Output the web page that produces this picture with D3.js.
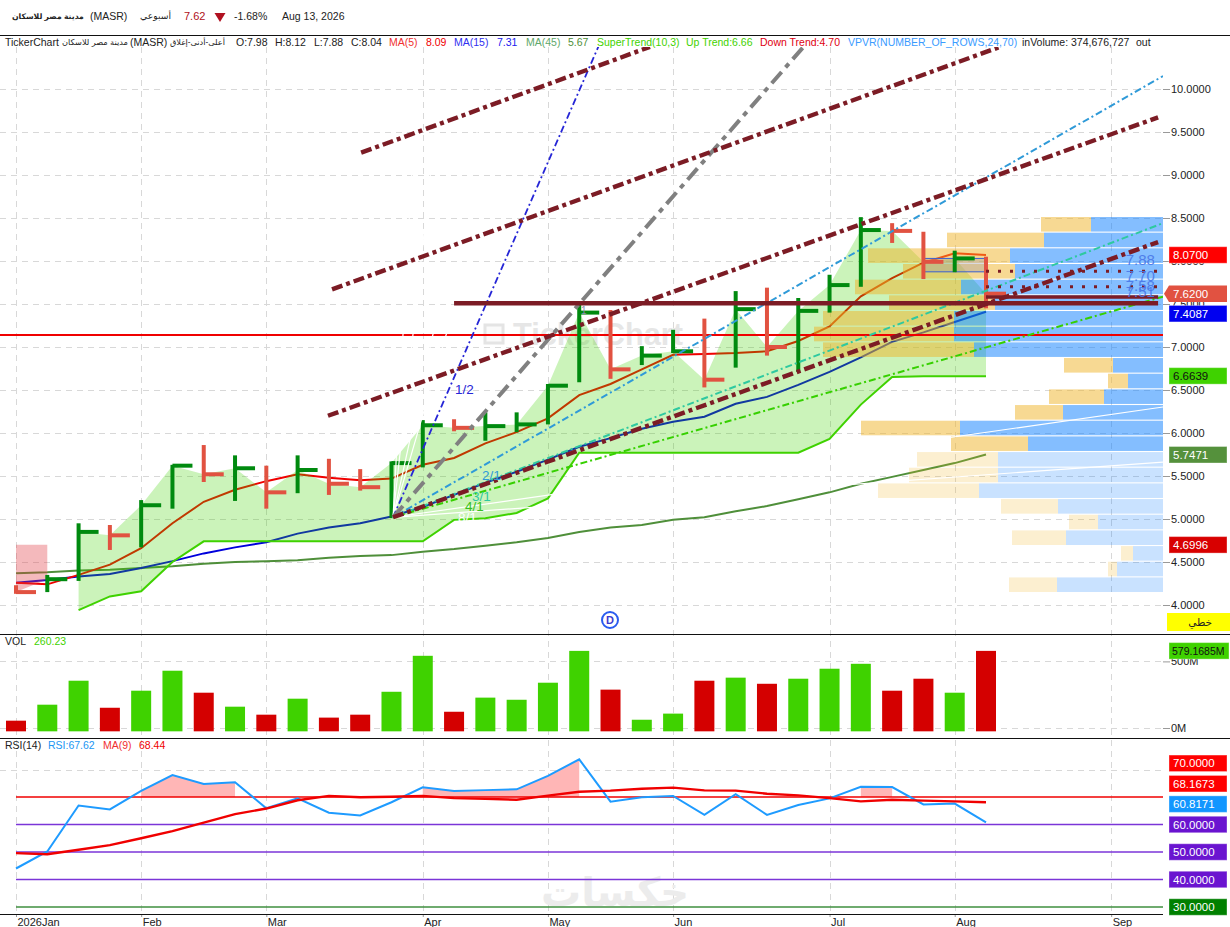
<!DOCTYPE html>
<html><head><meta charset="utf-8">
<script src="https://cdn.jsdelivr.net/npm/d3@7"></script>
<style>
html,body{margin:0;padding:0;background:#fff}
svg{display:block}
text{font-family:"Liberation Sans","DejaVu Sans",sans-serif}
</style></head><body><div id="c"></div>
<script>
// ---------- data ----------
const monthIndex=[0,4,8,13,17,21,26,30,35];
const monthLabels=["2026Jan","Feb","Mar","Apr","May","Jun","Jul","Aug","Sep"];
const priceTicks=[10,9.5,9,8.5,8,7.5,7,6.5,6,5.5,5,4.5,4];
const high=[4.23,4.35,4.95,4.93,5.22,5.63,5.86,5.74,5.62,5.74,5.70,5.58,5.67,6.15,6.16,6.24,6.24,6.57,7.49,7.43,7.01,7.20,7.33,7.65,7.69,7.57,7.84,8.51,8.44,8.34,8.12,8.05];
const low=[4.13,4.15,4.28,4.64,4.67,5.12,5.43,5.21,5.12,5.30,5.28,5.33,5.01,5.60,6.02,5.91,6.01,6.10,6.59,6.63,6.79,6.93,6.53,6.76,6.90,6.71,7.40,7.70,8.21,7.79,7.87,7.45];
const close=[4.15,4.30,4.85,4.81,5.16,5.62,5.52,5.59,5.31,5.57,5.41,5.37,5.65,6.09,6.06,6.08,6.10,6.55,7.40,6.74,6.90,6.95,6.62,7.44,7.00,7.42,7.72,8.36,8.35,7.99,8.03,7.62];
const ma5=[4.26,4.24,4.35,4.47,4.66,4.95,5.20,5.34,5.44,5.52,5.48,5.45,5.47,5.63,5.71,5.88,6.01,6.17,6.44,6.57,6.74,6.91,6.92,6.93,6.95,7.07,7.24,7.59,7.80,7.98,8.09,8.07];
const ma15=[4.26,4.29,4.33,4.36,4.43,4.51,4.60,4.67,4.73,4.83,4.90,4.95,5.03,5.14,5.28,5.42,5.55,5.69,5.84,5.94,6.05,6.13,6.19,6.34,6.42,6.56,6.71,6.88,7.06,7.17,7.29,7.41];
const ma45=[4.37,4.38,4.40,4.41,4.43,4.45,4.48,4.50,4.51,4.52,4.55,4.57,4.58,4.62,4.65,4.69,4.73,4.78,4.85,4.90,4.93,4.99,5.02,5.09,5.15,5.23,5.31,5.41,5.49,5.57,5.65,5.75];
const upTrend=[null,null,3.94,4.10,4.16,4.50,4.74,4.74,4.74,4.74,4.74,4.74,4.74,4.74,4.99,5.01,5.07,5.24,5.77,5.77,5.77,5.77,5.77,5.77,5.77,5.77,5.93,6.33,6.65,6.66,6.66,6.66];
const downTrend=[4.70,4.70];
const volume=[55,175,355,152,280,430,265,160,100,220,78,100,272,542,122,228,212,340,579,288,62,108,355,378,332,370,445,482,280,370,265,579];
const volumeUp=[0,1,1,0,1,1,0,1,0,1,0,0,1,1,0,1,1,1,1,0,1,1,0,1,0,1,1,1,0,0,1,0];
const rsi=[44.0,50.2,66.9,65.5,72.2,78.0,74.7,75.4,65.9,69.5,64.3,63.3,68.1,73.5,72.2,72.5,72.8,77.7,83.7,68.3,69.9,70.4,63.5,71.0,63.5,67.1,69.5,73.7,73.6,67.3,67.6,60.8];
const rsiMa=[49.6,49.2,50.8,52.5,55.0,57.6,60.7,63.8,65.8,68.8,70.4,69.9,70.1,70.4,69.6,69.3,69.0,70.5,71.9,72.3,73.0,73.4,72.4,72.3,71.2,70.6,69.6,68.4,69.0,68.7,68.4,68.1];
const rsiHot=[[4,7],[13,18],[27,28]];
const rsiLevels=[70,60,50,40,30];
const vpBuy=[72,119,153,148,202,168,209,209,189,50,35,59,100,203,135,165,165,184,105,65,97,30,46,106];
const vpSell=[50,97,142,112,106,106,131,140,151,49,20,55,48,99,77,81,89,101,57,29,54,12,9,48];
const channels=[[11.03,9.26,20.26,10.49],[10.1,7.67,31.45,10.49],[9.97,6.20,36.5,9.67],[12.05,5.02,36.5,8.22]];
const fanOrigin=[12.05,5.02], fanUnit=0.417;
const fanColored=[[2,"2/1"],[1/2,"1/2"],[1,"1"],[3,"3/1"],[4,"4/1"]];
const fanWhite=[8,16,1/3,1/4,1/8,1/16];
const fibLevels=[7.88,7.70,7.58,7.51];

// ---------- layout ----------
const W=1230,H=927;
const PLOT_R=1163;
const svg=d3.select("#c").append("svg").attr("width",W).attr("height",H).attr("viewBox",`0 0 ${W} ${H}`);
const x=d3.scaleLinear().domain([0,31]).range([16,986]);
const y=d3.scaleLinear().domain([4,10]).range([605,89]);
const yVol=d3.scaleLinear().domain([0,500]).range([728,661.4]);
const yR=d3.scaleLinear().domain([30,70]).range([907,797]);
const idxEnd=x.invert(PLOT_R);
const GRID="#d8d8d8";
const clipId="mainClip";
svg.append("defs").append("clipPath").attr("id",clipId).append("rect").attr("x",0).attr("y",47).attr("width",PLOT_R).attr("height",587);

// text helper; fit = shrink the font until the text takes that width
function T(g,txt,tx,ty,o={}){
  const t=g.append("text").attr("x",tx).attr("y",ty).attr("dy","0.35em")
    .attr("font-size",o.size||10.5).attr("fill",o.fill||"#222").text(txt);
  if(o.weight)t.attr("font-weight",o.weight);
  if(o.anchor)t.attr("text-anchor",o.anchor);
  if(o.opacity)t.attr("opacity",o.opacity);
  if(o.fit){const s=(o.size||10.5)*o.fit/t.node().getComputedTextLength();t.attr("font-size",s);}
  return t;
}

// grids
const grid=svg.append("g").attr("stroke",GRID).attr("stroke-width",1).attr("stroke-dasharray","6,5").attr("fill","none");
grid.selectAll(".v").data(monthIndex).join("line").attr("x1",d=>Math.round(x(d))+.5).attr("x2",d=>Math.round(x(d))+.5).attr("y1",47).attr("y2",914);
grid.selectAll(".h").data(priceTicks).join("line").attr("x1",0).attr("x2",PLOT_R).attr("y1",d=>Math.round(y(d))+.5).attr("y2",d=>Math.round(y(d))+.5);
[yVol(0),yVol(500),yR(80)].forEach(v=>grid.append("line").attr("x1",0).attr("x2",PLOT_R).attr("y1",Math.round(v)+.5).attr("y2",Math.round(v)+.5));

// watermarks
const wm=svg.append("g");
wm.append("rect").attr("x",485).attr("y",325).attr("width",18).attr("height",18).attr("fill","#fafafa").attr("stroke","#e4e4e4").attr("stroke-width",3);
T(wm,"TickerChart",513,334,{size:25,weight:"bold",fill:"#e6e6e6",fit:170});
T(wm,"خكسات",541,892,{size:44,weight:"bold",fill:"#ececec",fit:148});

const main=svg.append("g").attr("clip-path",`url(#${clipId})`);
const ln=(arr)=>d3.line().defined(d=>d!=null).x((d,i)=>x(i)).y(d=>y(d))(arr);

// moving averages under the fills
[[ma45,"#4f8f3a"],[ma15,"#0000dc"],[ma5,"#f00000"]].forEach(([a,c])=>main.append("path").attr("d",ln(a)).attr("fill","none").attr("stroke",c).attr("stroke-width",2));

// supertrend bands
const bandIdx=d3.range(2,32);
main.append("path").datum(bandIdx).attr("fill","rgba(63,210,0,0.27)")
  .attr("d",d3.area().x(i=>x(i)).y0(i=>y(upTrend[i])).y1(i=>y(close[i])));
main.append("path").datum(d3.range(0,2)).attr("fill","rgba(224,60,70,0.36)")
  .attr("d",d3.area().x(i=>x(i)).y0(i=>y(downTrend[i])).y1(i=>y(close[i])));
main.append("path").attr("d",ln(upTrend)).attr("fill","none").attr("stroke","#3fd200").attr("stroke-width",2);

// VPVR
const rowY=d3.scaleBand().domain(d3.range(24)).range([217,592]).paddingInner(0.07);
const vpX=d3.scaleLinear().domain([0,350]).range([PLOT_R,PLOT_R-350]);
const HOT_ROWS=15;
const vp=main.append("g");
vpBuy.forEach((b,r)=>{
  const hot=r<HOT_ROWS;
  vp.append("rect").attr("x",vpX(b)).attr("width",vpX(0)-vpX(b)).attr("y",rowY(r)).attr("height",rowY.bandwidth()).attr("fill",hot?"rgba(10,125,255,0.5)":"rgba(10,125,255,0.22)");
  vp.append("rect").attr("x",vpX(b+vpSell[r])).attr("width",vpX(b)-vpX(b+vpSell[r])).attr("y",rowY(r)).attr("height",rowY.bandwidth()).attr("fill",hot?"rgba(240,180,40,0.5)":"rgba(240,180,40,0.22)");
});

// fib box
main.append("rect").attr("x",x(29)).attr("width",x(31)-x(29)).attr("y",y(8.03)).attr("height",y(fibLevels[0])-y(8.03)+.5)
  .attr("fill","rgba(150,150,165,0.35)").attr("stroke","#3a5fd0").attr("stroke-width",1);

// red horizontal
main.append("line").attr("x1",0).attr("x2",PLOT_R).attr("y1",y(7.14)).attr("y2",y(7.14)).attr("stroke","#f00000").attr("stroke-width",2);

// HLC bars
const UP="#008a0f",DN="#e15241";
const bars=main.append("g").selectAll("g").data(d3.range(32)).join("g").attr("stroke",i=>volumeUp[i]?UP:DN).attr("stroke-width",4);
bars.append("line").attr("x1",i=>x(i)).attr("x2",i=>x(i)).attr("y1",i=>y(high[i])).attr("y2",i=>y(low[i]));
bars.append("line").attr("x1",i=>x(i)).attr("x2",i=>x(i)+20).attr("y1",i=>y(close[i])).attr("y2",i=>y(close[i]));

// fan
const fanY=(r,i)=>y(fanOrigin[1]+fanUnit*(i-fanOrigin[0])/r);
fanWhite.forEach(r=>main.append("line").attr("x1",x(fanOrigin[0])).attr("y1",y(fanOrigin[1])).attr("x2",x(idxEnd)).attr("y2",fanY(r,idxEnd)).attr("stroke","#fff").attr("stroke-width",1.2));
const fanStyle={"2/1":["#2f9ad8",2,"7,3,2,3"],"1/2":["#2626d6",1.8,"7,3,2,3"],"1":["#808080",4,"15,6,5,6"],"3/1":["#2ec9a0",2,"7,3,2,3"],"4/1":["#36d000",2,"7,3,2,3"]};
fanColored.forEach(([r,n])=>{const s=fanStyle[n];main.append("line").attr("x1",x(fanOrigin[0])).attr("y1",y(fanOrigin[1])).attr("x2",x(idxEnd)).attr("y2",fanY(r,idxEnd)).attr("stroke",s[0]).attr("stroke-width",s[1]).attr("stroke-dasharray",s[2]);});

// channels
const MAROON="#7c1c25";
channels.forEach(c=>main.append("line").attr("x1",x(c[0])).attr("y1",y(c[1])).attr("x2",x(c[2])).attr("y2",y(c[3])).attr("stroke",MAROON).attr("stroke-width",4.4).attr("stroke-dasharray","11,4,4,4"));

// fib levels
main.append("line").attr("x1",x(14)).attr("x2",x(36.5)).attr("y1",y(7.51)).attr("y2",y(7.51)).attr("stroke",MAROON).attr("stroke-width",4.5);
main.append("line").attr("x1",x(31)).attr("x2",x(36.5)).attr("y1",y(7.58)).attr("y2",y(7.58)).attr("stroke",MAROON).attr("stroke-width",3.5);
[7.88,7.70].forEach(v=>main.append("line").attr("x1",x(31)).attr("x2",x(36.5)).attr("y1",y(v)).attr("y2",y(v)).attr("stroke",MAROON).attr("stroke-width",3).attr("stroke-dasharray","3,9"));

// labels on drawing tools
const tl=svg.append("g");
fibLevels.forEach(v=>T(tl,v.toFixed(2),x(36.4),y(v)-11.5,{size:15,fill:"#4a78e8",anchor:"end",opacity:.9}));
T(tl,"1/2",455,389,{size:13.5,fill:"#2626d6"});
T(tl,"1",581,310,{size:10,fill:"#8a8ab0"});
T(tl,"2/1",482,475,{size:13.5,fill:"#2f9ad8"});
T(tl,"3/1",472,496,{size:13.5,fill:"#2ec9a0"});
T(tl,"4/1",465,506,{size:13.5,fill:"#36c020"});
T(tl,"8/1",458,517,{size:13.5,fill:"#fff"});

// D marker
const dm=svg.append("g");
dm.append("circle").attr("cx",610).attr("cy",620).attr("r",8).attr("fill","#fff").attr("stroke","#2a5cf0").attr("stroke-width",2);
T(dm,"D",610,620.5,{size:11,weight:"bold",fill:"#3a3ad0",anchor:"middle"});

// volume
svg.append("g").selectAll("rect").data(volume).join("rect").attr("x",(d,i)=>x(i)-10).attr("width",20)
  .attr("y",d=>yVol(d)).attr("height",d=>yVol(-25)-yVol(d)).attr("fill",(d,i)=>volumeUp[i]?"#3fd200":"#d40000");

// RSI
const rs=svg.append("g");
rsiHot.forEach(([a,b])=>rs.append("path").datum(d3.range(a,b+1)).attr("fill","#ffb6b6")
  .attr("d",d3.area().x(i=>x(i)).y0(yR(70)).y1(i=>yR(rsi[i]))));
rsiLevels.forEach(v=>{const c=v===70?"#f00000":v===30?"#3f8f3f":"#7b35d8";
  rs.append("line").attr("x1",16).attr("x2",PLOT_R).attr("y1",yR(v)).attr("y2",yR(v)).attr("stroke",c).attr("stroke-width",1.4);});
const lr=a=>d3.line().x((d,i)=>x(i)).y(d=>yR(d))(a);
rs.append("path").attr("d",lr(rsi)).attr("fill","none").attr("stroke","#1e9bff").attr("stroke-width",2);
rs.append("path").attr("d",lr(rsiMa)).attr("fill","none").attr("stroke","#f00000").attr("stroke-width",2.4);

// axes
function styleAxis(g){g.select(".domain").remove();g.selectAll(".tick line").attr("stroke","#999");g.selectAll(".tick text").attr("fill","#222").attr("font-size",11).attr("font-family",'"Liberation Sans",sans-serif');}
svg.append("g").attr("transform",`translate(${PLOT_R},0)`).call(d3.axisRight(y).tickValues(priceTicks).tickSize(7).tickPadding(1).tickFormat(d3.format(".4f"))).call(styleAxis);
svg.append("g").attr("transform",`translate(${PLOT_R},0)`).call(d3.axisRight(yVol).tickValues([0,500]).tickSize(7).tickPadding(1).tickFormat(d=>d+"M")).call(styleAxis);
const xa=svg.append("g").attr("transform","translate(0,914)").call(d3.axisBottom(x).tickValues(monthIndex).tickSize(3).tickPadding(1).tickFormat((d,i)=>monthLabels[i])).call(styleAxis);
xa.selectAll(".tick text").attr("text-anchor","start").attr("dx",1).attr("font-size",11);

// pane lines
[[0,W,35],[0,W,634],[0,W,738],[0,PLOT_R,914]].forEach(([a,b,v])=>svg.append("line").attr("x1",a).attr("x2",b).attr("y1",v+.5).attr("y2",v+.5).attr("stroke","#111").attr("stroke-width",1.2));

// value pills
const pills=svg.append("g");
function pill(cy,label,bg,fg,arrow,o={}){
  const h=16.5,l=1169,r=o.right||1227;
  if(arrow){pills.append("path").attr("d",`M${l-5},${cy} L${l},${cy-h/2} H${r} V${cy+h/2} H${l} Z`).attr("fill",bg);}
  else pills.append("rect").attr("x",l).attr("y",cy-h/2).attr("width",r-l).attr("height",h).attr("fill",bg).attr("stroke","#fff").attr("stroke-opacity",.35);
  T(pills,label,l+(o.pad||4),cy,{size:o.size||11.5,fill:fg});
}
const pricePills=[[8.07,"#ff0000","#fff"],[7.62,"#e15241","#fff",true],[7.4087,"#0000f0","#fff"],[6.6639,"#3fd200","#111"],[5.7471,"#55913c","#fff"],[4.6996,"#d80000","#fff"]];
let lastY=-99;
pricePills.forEach(([v,bg,fg,a])=>{const cy=Math.max(y(v),lastY+20);lastY=cy;pill(cy,v.toFixed(4),bg,fg,a);});
pill(yVol(579.1685),"579.1685M","#3fd200","#111",false,{size:10.5,pad:3,right:1229});
const rsiPills=[[30,"#008000"],[40,"#6a14d0"],[50,"#6a14d0"],[60,"#6a14d0"],[60.8171,"#1296ff"],[68.1673,"#ff0000"],[70,"#ff0000"]];
let prevY=999;
rsiPills.forEach(([v,c])=>{const cy=Math.min(yR(v),prevY-20.4);prevY=cy;pill(cy,v.toFixed(4),c,"#fff");});
pills.append("rect").attr("x",1167).attr("y",613).attr("width",63).attr("height",18).attr("fill","#ffff00");
T(pills,"خطي",1212,622,{size:10.5,fill:"#222",anchor:"end"});

// header
const hd=svg.append("g");
T(hd,"مدينة مصر للاسكان",12,16,{size:11,weight:"bold",fill:"#222",fit:72});
T(hd,"(MASR)",90,16,{size:10.5});
T(hd,"أسبوعي",140,16,{size:10.5,fit:31});
T(hd,"7.62",184,16,{size:11,fill:"#b01020"});
hd.append("path").attr("d","M214.5,13 H225.5 L220,22 Z").attr("fill","#b01020");
T(hd,"-1.68%",234,16,{size:10.5});
T(hd,"Aug 13, 2026",282,16,{size:10.5});
const legend=[
 ["TickerChart",5,"#222"],["مدينة مصر للاسكان",62,"#222",66],["(MASR)",130,"#222"],["أعلى-أدنى-إغلاق",170,"#222",55],
 ["O:7.98",236,"#222"],["H:8.12",275,"#222"],["L:7.88",314,"#222"],["C:8.04",351,"#222"],
 ["MA(5)",389,"#f03030"],["8.09",426,"#f00000"],["MA(15)",454,"#3030f0"],["7.31",497,"#2020f0"],["MA(45)",526,"#5fa86a"],["5.67",568,"#4f8f3a"],
 ["SuperTrend(10,3)",597,"#3fd200"],["Up Trend:6.66",686,"#3fd200"],["Down Trend:4.70",760,"#e00010"],["VPVR(NUMBER_OF_ROWS,24,70)",848,"#3a9bff"],
 ["inVolume: 374,676,727",1022,"#222"],["out",1136,"#222"]];
legend.forEach(([t,lx,c,fit])=>T(hd,t,lx,42,{fill:c,fit}));
T(hd,"VOL",5,641,{}); T(hd,"260.23",34,641,{fill:"#3fd200"});
T(hd,"RSI(14)",5,745,{}); T(hd,"RSI:67.62",48,745,{fill:"#2196f3"}); T(hd,"MA(9)",103,745,{fill:"#f03030"}); T(hd,"68.44",139,745,{fill:"#f00000"});
</script></body></html>
